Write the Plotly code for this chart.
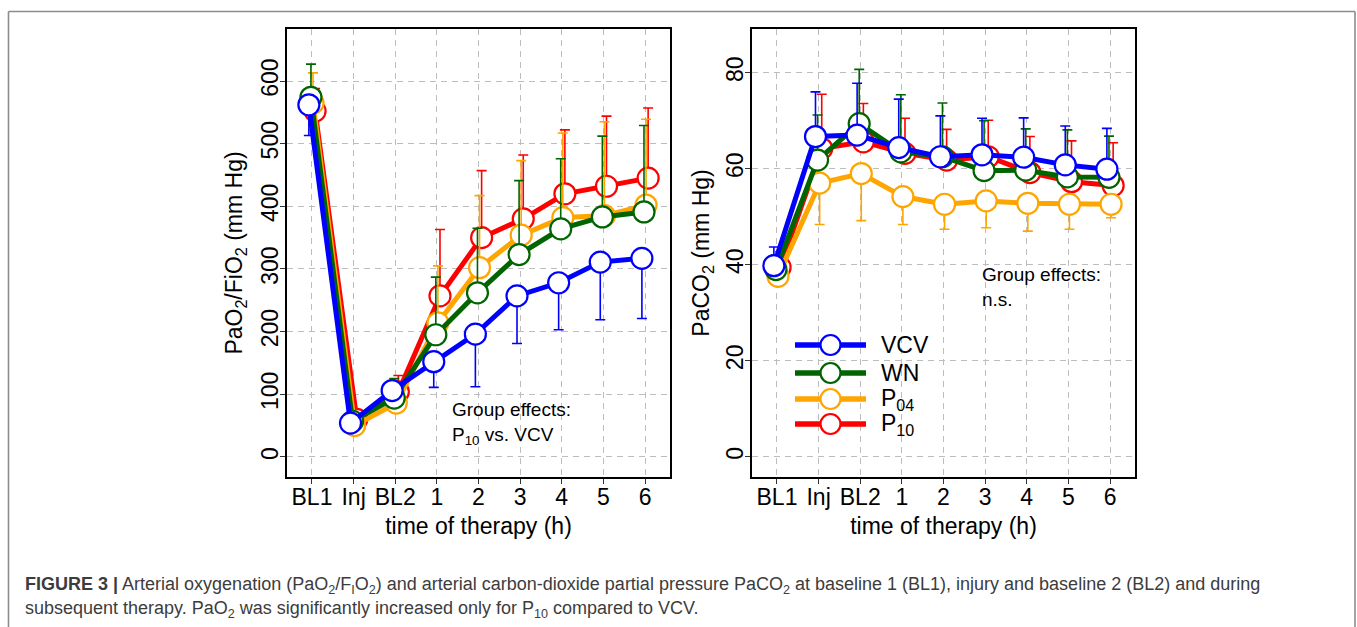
import plotly.graph_objects as go

# ---------------- data ----------------
time_labels = ["BL1", "Inj", "BL2", "1", "2", "3", "4", "5", "6"]
groups = ["VCV", "WN", "P04", "P10"]
group_names = {"VCV": "VCV", "WN": "WN", "P04": "P<sub>04</sub>", "P10": "P<sub>10</sub>"}
colors = {"VCV": "#0000FF", "WN": "#006400", "P04": "#FFA500", "P10": "#FF0000"}

# PaO2/FiO2 (mm Hg) means and SD
pf_VCV = [562, 54, 106, 152, 196, 257, 278, 311, 317]
pf_WN = [574, 57, 94, 195, 262, 323, 364, 383, 391]
pf_P04 = [565, 50, 86, 214, 302, 354, 382, 385, 402]
pf_P10 = [552, 60, 104, 257, 350, 380, 420, 432, 445]
pf_sd_VCV = [49, 6, 8, 41, 84, 76, 75, 92, 96]
pf_sd_WN = [53, 10, 31, 92, 103, 118, 112, 129, 138]
pf_sd_P04 = [48, 8, 20, 91, 115, 119, 135, 150, 137]
pf_sd_P10 = [36, 10, 26, 106, 107, 102, 102, 112, 112]
pf_err_dir = {"VCV": "down", "WN": "up", "P04": "up", "P10": "up"}

# PaCO2 (mm Hg) means and SD
pc_VCV = [39.8, 66.7, 67.0, 64.4, 62.5, 62.9, 62.4, 60.8, 59.9]
pc_WN = [39.0, 61.8, 69.4, 63.5, 62.5, 59.6, 59.7, 58.3, 58.2]
pc_P04 = [37.6, 57.0, 59.0, 54.2, 52.6, 53.3, 52.8, 52.6, 52.6]
pc_P10 = [39.5, 64.2, 65.6, 63.2, 61.8, 62.5, 59.2, 57.3, 56.5]
pc_sd_VCV = [3.9, 9.3, 10.8, 10.1, 8.5, 7.6, 8.2, 8.1, 8.5]
pc_sd_WN = [3.0, 9.4, 11.3, 11.9, 11.2, 10.4, 8.6, 9.8, 8.6]
pc_sd_P04 = [1.8, 8.6, 9.8, 5.8, 5.2, 5.6, 5.8, 5.2, 2.8]
pc_sd_P10 = [3.2, 11.3, 8.0, 7.3, 6.4, 7.6, 7.5, 8.5, 8.9]
pc_err_dir = {"VCV": "up", "WN": "up", "P04": "down", "P10": "up"}

pf = {"VCV": pf_VCV, "WN": pf_WN, "P04": pf_P04, "P10": pf_P10}
pf_sd = {"VCV": pf_sd_VCV, "WN": pf_sd_WN, "P04": pf_sd_P04, "P10": pf_sd_P10}
pc = {"VCV": pc_VCV, "WN": pc_WN, "P04": pc_P04, "P10": pc_P10}
pc_sd = {"VCV": pc_sd_VCV, "WN": pc_sd_WN, "P04": pc_sd_P04, "P10": pc_sd_P10}
dodge = {"VCV": -0.075, "WN": -0.025, "P04": 0.025, "P10": 0.075}
draw_order = ["P10", "P04", "WN", "VCV"]

OFF = 0  # page body margin removed by post_script
W, H = 1357, 627
FONT = "Liberation Sans, Arial, sans-serif"


def px_x(p):
    return (p - OFF) / W


def px_y(p):
    return 1 - (p - OFF) / H


fig = go.Figure()

for xa, ya, vals, sds, dirs in [("x", "y", pf, pf_sd, pf_err_dir), ("x2", "y2", pc, pc_sd, pc_err_dir)]:
    for g in draw_order:
        xs = [i + dodge[g] for i in range(len(time_labels))]
        zeros = [0] * len(sds[g])
        if dirs[g] == "up":
            err = dict(type="data", symmetric=False, array=sds[g], arrayminus=zeros,
                       color=colors[g], thickness=1.6, width=5)
        else:
            err = dict(type="data", symmetric=False, array=zeros, arrayminus=sds[g],
                       color=colors[g], thickness=1.6, width=5)
        fig.add_trace(go.Scatter(
            x=xs, y=vals[g], xaxis=xa, yaxis=ya, mode="lines+markers",
            name=group_names[g], showlegend=False,
            line=dict(color=colors[g], width=5),
            marker=dict(size=21, color="white", line=dict(color=colors[g], width=2.2)),
            error_y=err,
        ))

axis_common = dict(
    showline=True, linecolor="black", linewidth=1.6, mirror=True,
    ticks="outside", ticklen=5, tickcolor="#333333", tickwidth=1.2,
    showgrid=True, gridcolor="#BDBDBD", griddash="6px,5px", gridwidth=1.3,
    zeroline=False, tickfont=dict(family=FONT, size=23, color="black"),
)
title_font = dict(family=FONT, size=23, color="black")

y0d, y1d = px_y(477), px_y(29)
fig.update_layout(
    width=W, height=H, margin=dict(l=0, r=0, t=0, b=0),
    paper_bgcolor="white", plot_bgcolor="white", showlegend=False,
    xaxis=dict(axis_common, domain=[px_x(287), px_x(670)], range=[-0.6, 8.6],
               tickvals=list(range(9)), ticktext=time_labels, ticklabelstandoff=-6,
               title=dict(text="time of therapy (h)", font=title_font, standoff=8)),
    yaxis=dict(axis_common, domain=[y0d, y1d], range=[-32, 683], tickvals=[0, 100, 200, 300, 400, 500, 600],
               tickangle=-90, ticklabelstandoff=-7,
               title=dict(text="PaO<sub>2</sub>/FiO<sub>2</sub> (mm Hg)", font=title_font, standoff=8)),
    xaxis2=dict(axis_common, domain=[px_x(752), px_x(1135)], range=[-0.6, 8.6], anchor="y2",
                tickvals=list(range(9)), ticktext=time_labels, ticklabelstandoff=-6,
                title=dict(text="time of therapy (h)", font=title_font, standoff=8)),
    yaxis2=dict(axis_common, domain=[y0d, y1d], range=[-4.2, 89.1], anchor="x2", tickvals=[0, 20, 40, 60, 80],
                tickangle=-90, ticklabelstandoff=-7,
                title=dict(text="PaCO<sub>2</sub> (mm Hg)", font=title_font, standoff=6)),
)

shapes = []
annotations = []
# outer frame (three visible edges)
frame = dict(color="#8C8C8C", width=1.6)
fx0, fx1, fy0, fy1 = 8.5, 1355, 11.5, 640
shapes.append(dict(type="line", xref="paper", yref="paper", x0=px_x(fx0), x1=px_x(fx1), y0=px_y(fy0), y1=px_y(fy0), line=frame))
shapes.append(dict(type="line", xref="paper", yref="paper", x0=px_x(fx0), x1=px_x(fx0), y0=px_y(fy0), y1=px_y(fy1), line=frame))
shapes.append(dict(type="line", xref="paper", yref="paper", x0=px_x(fx1), x1=px_x(fx1), y0=px_y(fy0), y1=px_y(fy1), line=frame))

# legend (right panel)
leg_rows = [345, 373, 399, 424]
for g, yy in zip(groups, leg_rows):
    shapes.append(dict(type="line", xref="paper", yref="paper", x0=px_x(795), x1=px_x(866), y0=px_y(yy), y1=px_y(yy),
                       line=dict(color=colors[g], width=5.5)))
    shapes.append(dict(type="circle", xref="paper", yref="paper", xsizemode="pixel", ysizemode="pixel",
                       xanchor=px_x(830.5), yanchor=px_y(yy), x0=-10, x1=10, y0=-10, y1=10,
                       fillcolor="white", line=dict(color=colors[g], width=2.2)))
    annotations.append(dict(xref="paper", yref="paper", x=px_x(879), y=px_y(yy), xanchor="left", yanchor="middle",
                            text=group_names[g], showarrow=False, font=dict(family=FONT, size=23, color="black")))

# group effects text
annotations.append(dict(xref="paper", yref="paper", x=px_x(450), y=px_y(423), xanchor="left", yanchor="middle",
                        text="Group effects:<br>P<sub>10</sub> vs. VCV", align="left", showarrow=False,
                        font=dict(family=FONT, size=19, color="black")))
annotations.append(dict(xref="paper", yref="paper", x=px_x(980), y=px_y(287), xanchor="left", yanchor="middle",
                        text="Group effects:<br>n.s.", align="left", showarrow=False,
                        font=dict(family=FONT, size=19, color="black")))

# caption
cap1 = ("<b>FIGURE 3 |</b> Arterial oxygenation (PaO<sub>2</sub>/F<sub>I</sub>O<sub>2</sub>) and arterial "
        "carbon-dioxide partial pressure PaCO<sub>2</sub> at baseline 1 (BL1), injury and baseline 2 (BL2) and during")
cap2 = ("subsequent therapy. PaO<sub>2</sub> was significantly increased only for P<sub>10</sub> compared to VCV.")
annotations.append(dict(xref="paper", yref="paper", x=px_x(23), y=px_y(585), xanchor="left", yanchor="middle",
                        text=cap1, showarrow=False, font=dict(family=FONT, size=18, color="#3C3C3C")))
annotations.append(dict(xref="paper", yref="paper", x=px_x(23), y=px_y(609), xanchor="left", yanchor="middle",
                        text=cap2, showarrow=False, font=dict(family=FONT, size=18, color="#3C3C3C")))

fig.update_layout(shapes=shapes, annotations=annotations)
fig.write_html("out.html", config={"displayModeBar": False},
               post_script="document.body.style.margin='0';document.body.style.overflow='hidden';")
